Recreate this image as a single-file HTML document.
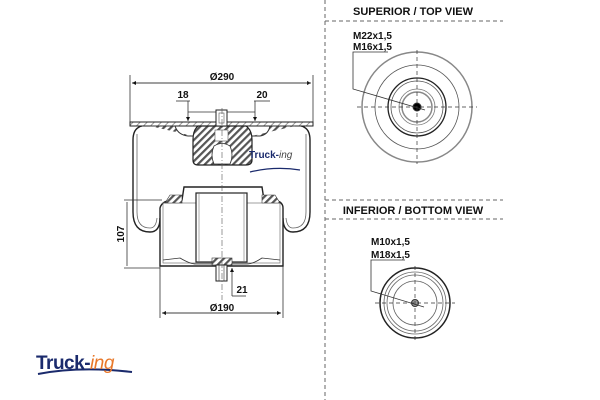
<!DOCTYPE html>
<html><head><meta charset="utf-8"><style>
html,body{margin:0;padding:0;background:#fff;}
svg{display:block;}
text{font-family:"Liberation Sans",sans-serif;font-weight:bold;fill:#111;}
</style></head><body>
<svg width="600" height="400" viewBox="0 0 600 400" xmlns="http://www.w3.org/2000/svg">
<defs>
<pattern id="h" width="5" height="5" patternUnits="userSpaceOnUse" patternTransform="rotate(45)">
<rect width="5" height="5" fill="#fff"/><rect width="2.2" height="5" fill="#555"/></pattern>
<pattern id="h2" width="5" height="5" patternUnits="userSpaceOnUse" patternTransform="rotate(45)">
<rect width="5" height="5" fill="#fff"/><rect width="1" height="5" fill="#999"/></pattern>
<marker id="a" markerWidth="6" markerHeight="6" refX="5" refY="3" orient="auto"><path d="M0,0.5 L5,3 L0,5.5z" fill="#111"/></marker>
</defs>
<g stroke="#333" fill="none" stroke-width="1">
<line x1="325" y1="0" x2="325" y2="400" stroke-dasharray="4,3" stroke="#666"/>
<line x1="325" y1="21" x2="503" y2="21" stroke-dasharray="4,3" stroke="#666"/>
<line x1="325" y1="200" x2="503" y2="200" stroke-dasharray="4,3" stroke="#666"/>
<line x1="325" y1="219" x2="503" y2="219" stroke-dasharray="4,3" stroke="#666"/>
<circle cx="417" cy="107" r="55" stroke="#888" stroke-width="1.5"/>
<circle cx="417" cy="107" r="42" stroke="#555" stroke-width=".8"/>
<circle cx="417" cy="107" r="29" stroke="#222" stroke-width="1.3"/>
<circle cx="417" cy="107" r="26" stroke="#555" stroke-width=".8"/>
<circle cx="417" cy="107" r="18" stroke="#777" stroke-width=".8"/>
<circle cx="417" cy="107" r="15" stroke="#888" stroke-width="1.5"/>
<circle cx="417" cy="107" r="4" fill="#000"/>
<line x1="357" y1="107" x2="477" y2="107" stroke-dasharray="4,3" stroke-width=".7"/>
<line x1="417" y1="50" x2="417" y2="164" stroke-dasharray="4,3" stroke-width=".7"/>
<polyline points="388,52 353,52 353,89 425,110" stroke-width=".8"/>
<circle cx="415" cy="303" r="35" stroke="#222" stroke-width="1.5"/>
<circle cx="415" cy="303" r="31" stroke="#666" stroke-width=".8"/>
<circle cx="415" cy="303" r="28" stroke="#666" stroke-width=".8"/>
<circle cx="415" cy="303" r="22" stroke="#666" stroke-width=".8"/>
<circle cx="415" cy="303" r="3.5" fill="#999"/>
<line x1="375" y1="303" x2="455" y2="303" stroke-dasharray="4,3" stroke-width=".7"/>
<line x1="415" y1="266" x2="415" y2="343" stroke-dasharray="4,3" stroke-width=".7"/>
<polyline points="405,260 371,260 371,291 424,307" stroke-width=".8"/>
<line x1="130" y1="75" x2="130" y2="122" stroke-width=".8"/>
<line x1="313" y1="75" x2="313" y2="122" stroke-width=".8"/>
<line x1="132" y1="83" x2="311" y2="83" stroke-width=".8" marker-end="url(#a)"/>
<line x1="311" y1="83" x2="132" y2="83" stroke-width=".8" marker-end="url(#a)"/>
<line x1="176" y1="101" x2="190" y2="101" stroke-width=".8"/>
<line x1="254" y1="101" x2="270" y2="101" stroke-width=".8"/>
<line x1="188" y1="101" x2="188" y2="121" stroke-width=".8" marker-end="url(#a)"/>
<line x1="255" y1="101" x2="255" y2="121" stroke-width=".8" marker-end="url(#a)"/>
<line x1="188" y1="112" x2="255" y2="112" stroke-width=".8"/>
<rect x="130" y="122" width="183" height="4" fill="url(#h2)" stroke="#222"/>
<path d="M142,126 Q133,128 133,140 L133,212 Q133,232 150,232 Q160,232 160,218 M301,126 Q310,128 310,140 L310,212 Q310,232 293,232 Q283,232 283,218" stroke="#222" stroke-width="1.4"/>
<path d="M137,134 L137,212 Q137,228 150,228 Q156,228 157,218 M306,134 L306,212 Q306,228 293,228 Q287,228 286,218" stroke="#666" stroke-width=".8"/>
<path d="M150,126 L175,126 Q178,135 188,136 L193,136 M252,136 L260,136 Q268,135 270,126 L295,126" stroke="#333" fill="url(#h)" stroke-width="1"/>
<path d="M160,208 Q162,200 175,200 L182,200 L184,187 L262,187 L264,200 L270,200 Q283,200 283,208 L283,266 L160,266 Z" stroke="#222" stroke-width="1.4" fill="#fff"/>
<rect x="163" y="203" width="117" height="60" stroke="#777" stroke-width=".7"/>
<path d="M170,195 L182,195 L182,203 L165,203 Z M262,195 L275,195 L280,203 L262,203 Z" fill="url(#h)" stroke="#333" stroke-width=".6"/>
<rect x="196" y="193" width="51" height="69" stroke="#222" stroke-width="1.2" fill="#fff"/>
<line x1="199" y1="193" x2="199" y2="262" stroke="#777" stroke-width=".6"/>
<line x1="244" y1="193" x2="244" y2="262" stroke="#777" stroke-width=".6"/>
<path d="M163,260 L180,258 Q190,264 196,264 L247,264 Q253,264 262,258 L280,260" stroke="#333" stroke-width=".8"/>
<rect x="212" y="258" width="20" height="7" fill="url(#h)" stroke="#333" stroke-width=".6"/>
<rect x="216" y="265" width="11" height="16" stroke="#222" fill="#fff"/>
<line x1="219" y1="265" x2="219" y2="281" stroke-width=".6"/><line x1="224" y1="265" x2="224" y2="281" stroke-width=".6"/>
<path d="M198,126 L246,126 Q252,130 252,140 L252,160 Q252,165 246,165 L198,165 Q193,165 193,160 L193,140 Q193,130 198,126 Z" fill="url(#h)" stroke="#222" stroke-width="1.2"/>
<path d="M214,146 Q222,141 230,146 Q234,155 230,164 L214,164 Q210,155 214,146 Z" fill="#fff" stroke="#333" stroke-width=".8"/>
<rect x="216" y="110" width="11" height="16" fill="#fff" stroke="#222"/>
<rect x="219" y="113" width="5" height="10" stroke="#555" stroke-width=".6"/>
<rect x="215" y="130" width="13" height="11" fill="#fff" stroke="#555" stroke-width=".6"/>
<line x1="222" y1="108" x2="222" y2="300" stroke-dasharray="6,2,1,2" stroke-width=".6" stroke="#555"/>
<line x1="124" y1="200" x2="162" y2="200" stroke-width=".7"/>
<line x1="124" y1="268" x2="160" y2="268" stroke-width=".7"/>
<line x1="127" y1="202" x2="127" y2="266" stroke-width=".8"/>
<line x1="232" y1="296" x2="232" y2="268" stroke-width=".8" marker-end="url(#a)"/>
<line x1="232" y1="296" x2="246" y2="296" stroke-width=".8"/>
<line x1="160" y1="266" x2="160" y2="318" stroke-width=".8"/>
<line x1="283" y1="266" x2="283" y2="318" stroke-width=".8"/>
<line x1="281" y1="313" x2="162" y2="313" stroke-width=".8" marker-end="url(#a)"/>
<line x1="162" y1="313" x2="281" y2="313" stroke-width=".8" marker-end="url(#a)"/>
<path d="M250,172 Q275,166 300,170" stroke="#1a2a6c" stroke-width="1.2"/>
<path d="M38,374 Q80,366 132,372" stroke="#1a2a6c" stroke-width="2"/>
</g>
<text x="413" y="15" font-size="11" text-anchor="middle">SUPERIOR / TOP VIEW</text>
<text x="413" y="214" font-size="11" text-anchor="middle">INFERIOR / BOTTOM VIEW</text>
<text x="353" y="39" font-size="10">M22x1,5</text>
<text x="353" y="50" font-size="10">M16x1,5</text>
<text x="371" y="245" font-size="10">M10x1,5</text>
<text x="371" y="258" font-size="10">M18x1,5</text>
<text x="222" y="80" font-size="10" text-anchor="middle">Ø290</text>
<text x="183" y="98" font-size="10" text-anchor="middle">18</text>
<text x="262" y="98" font-size="10" text-anchor="middle">20</text>
<text x="222" y="311" font-size="10" text-anchor="middle">Ø190</text>
<text x="242" y="293" font-size="10" text-anchor="middle">21</text>
<text x="124" y="234" font-size="10" text-anchor="middle" transform="rotate(-90 124 234)">107</text>
<text x="249" y="158" font-size="10" style="fill:#1a2a6c">Truck-<tspan font-style="italic" font-weight="normal" style="fill:#444">ing</tspan></text>
<text x="36" y="369" font-size="19" style="fill:#1a2a6c;letter-spacing:-0.5px">Truck-<tspan font-style="italic" font-weight="normal" style="fill:#e8782a">ing</tspan></text>
</svg>
</body></html>
